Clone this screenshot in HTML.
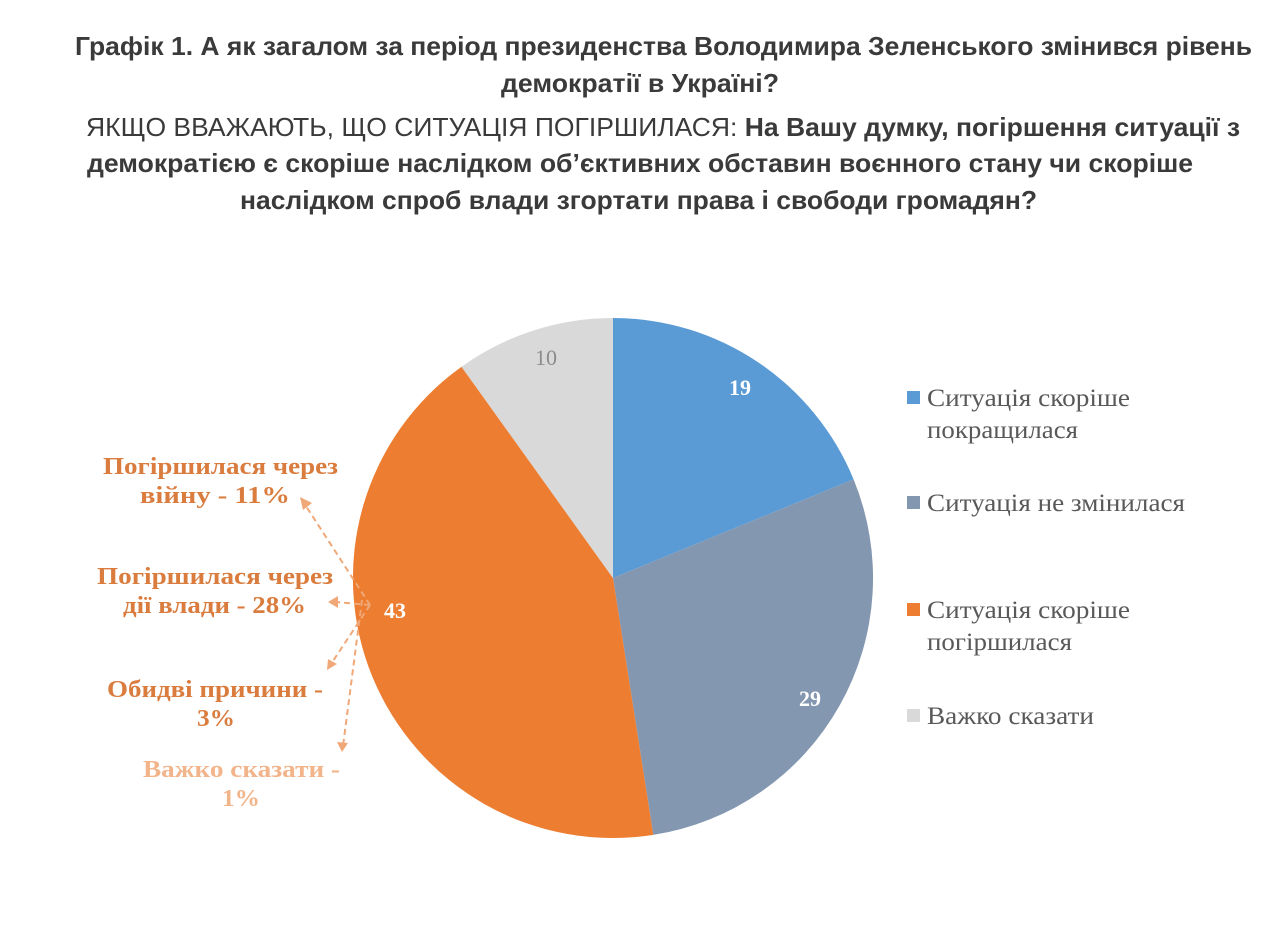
<!DOCTYPE html>
<html><head><meta charset="utf-8"><style>
html,body{margin:0;padding:0;background:#fff;}
svg{display:block}
.t{font-family:"Liberation Sans",sans-serif;font-weight:bold;font-size:26px;fill:#3a3a3a}
.n{font-weight:normal}
.lg{font-family:"Liberation Serif",serif;font-size:25px;fill:#595959}
.an{font-family:"Liberation Serif",serif;font-weight:bold;font-size:24px;fill:#d97c3e}
.v{font-family:"Liberation Serif",serif;font-weight:bold;font-size:22px;fill:#fff}
</style></head><body>
<svg width="1280" height="942" viewBox="0 0 1280 942" xmlns="http://www.w3.org/2000/svg">
<text class="t" x="75" y="55" textLength="1177" lengthAdjust="spacingAndGlyphs">Графік 1. А як загалом за період президенства Володимира Зеленського змінився рівень</text>
<text class="t" x="501" y="92" textLength="278" lengthAdjust="spacingAndGlyphs">демократії в Україні?</text>
<text class="t" x="86" y="136" textLength="1154" lengthAdjust="spacingAndGlyphs"><tspan class="n">ЯКЩО ВВАЖАЮТЬ, ЩО СИТУАЦІЯ ПОГІРШИЛАСЯ: </tspan>На Вашу думку, погіршення ситуації з</text>
<text class="t" x="87" y="172" textLength="1106" lengthAdjust="spacingAndGlyphs">демократією є скоріше наслідком об’єктивних обставин воєнного стану чи скоріше</text>
<text class="t" x="240" y="209" textLength="797" lengthAdjust="spacingAndGlyphs">наслідком спроб влади згортати права і свободи громадян?</text>

<path d="M613,578 L613,318 A260,260 0 0 1 853.6,479.4 Z" fill="#5b9bd5"/>
<path d="M613,578 L853.6,479.4 A260,260 0 0 1 653.3,834.9 Z" fill="#8497b0"/>
<path d="M613,578 L653.3,834.9 A260,260 0 0 1 461.5,366.7 Z" fill="#ed7d31"/>
<path d="M613,578 L461.5,366.7 A260,260 0 0 1 613,318 Z" fill="#d9d9d9"/>

<text class="v" x="740" y="395" text-anchor="middle">19</text>
<text class="v" x="810" y="706" text-anchor="middle">29</text>
<text class="v" x="395" y="618" text-anchor="middle">43</text>
<text class="v" x="546" y="365" text-anchor="middle" style="fill:#8c8c8c;font-weight:normal">10</text>

<g stroke="#f0a878" stroke-width="2" stroke-dasharray="6,4" fill="none">
<line x1="370" y1="605" x2="304" y2="503"/>
<line x1="370" y1="605" x2="336" y2="602"/>
<line x1="370" y1="605" x2="331" y2="664"/>
<line x1="362" y1="600" x2="343" y2="746"/>
</g>
<g fill="#f0a878">
<polygon points="300,497 312,503 303,510"/>
<polygon points="328,602 338,596 338,608"/>
<polygon points="327,670 328,659 337,664"/>
<polygon points="342,752 337,742 348,743"/>
</g>

<text class="an" x="103" y="474" textLength="235" lengthAdjust="spacingAndGlyphs">Погіршилася через</text>
<text class="an" x="140" y="503" textLength="150" lengthAdjust="spacingAndGlyphs">війну - 11%</text>
<text class="an" x="97" y="584" textLength="236" lengthAdjust="spacingAndGlyphs">Погіршилася через</text>
<text class="an" x="123" y="613" textLength="183" lengthAdjust="spacingAndGlyphs">дії влади - 28%</text>
<text class="an" x="107" y="697" textLength="216" lengthAdjust="spacingAndGlyphs">Обидві причини -</text>
<text class="an" x="197" y="726" textLength="38" lengthAdjust="spacingAndGlyphs">3%</text>
<text class="an" x="143" y="777" textLength="197" lengthAdjust="spacingAndGlyphs" style="fill:#f2b48a">Важко сказати -</text>
<text class="an" x="222" y="806" textLength="38" lengthAdjust="spacingAndGlyphs" style="fill:#f2b48a">1%</text>

<rect x="907" y="391" width="13" height="13" fill="#5b9bd5"/>
<rect x="907" y="496" width="13" height="13" fill="#8497b0"/>
<rect x="907" y="603" width="13" height="13" fill="#ed7d31"/>
<rect x="907" y="709" width="13" height="13" fill="#d9d9d9"/>
<text class="lg" x="927" y="406" textLength="203" lengthAdjust="spacingAndGlyphs">Ситуація скоріше</text>
<text class="lg" x="927" y="438" textLength="151" lengthAdjust="spacingAndGlyphs">покращилася</text>
<text class="lg" x="927" y="511" textLength="258" lengthAdjust="spacingAndGlyphs">Ситуація не змінилася</text>
<text class="lg" x="927" y="618" textLength="203" lengthAdjust="spacingAndGlyphs">Ситуація скоріше</text>
<text class="lg" x="927" y="650" textLength="145" lengthAdjust="spacingAndGlyphs">погіршилася</text>
<text class="lg" x="927" y="724" textLength="167" lengthAdjust="spacingAndGlyphs">Важко сказати</text>
</svg>
</body></html>
